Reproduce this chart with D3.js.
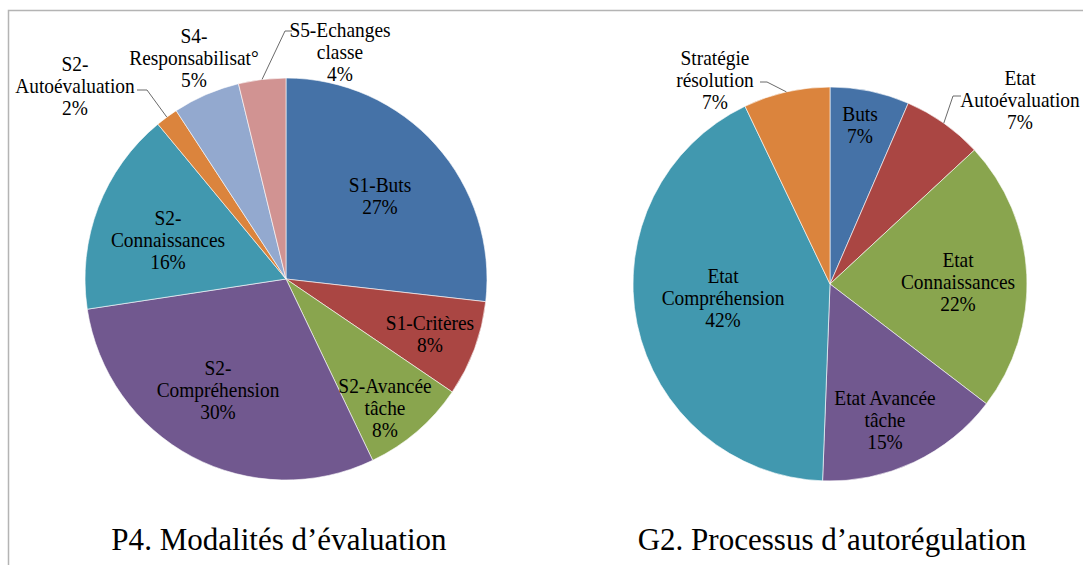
<!DOCTYPE html>
<html>
<head>
<meta charset="utf-8">
<script src="https://cdn.jsdelivr.net/npm/d3@7"></script>
<style>
  body { margin: 0; background: #fff; }
  svg text { font-family: "Liberation Serif", "Times New Roman", Times, serif; fill: #000; }
</style>
</head>
<body>
<svg id="chart" width="1083" height="565"></svg>
<script>
// left pie: P4
const p4Labels = [['S1-Buts'], ['S1-Critères'], ['S2-Avancée', 'tâche'], ['S2-', 'Compréhension'],
  ['S2-', 'Connaissances'], ['S2-', 'Autoévaluation'], ['S4-', 'Responsabilisat°'], ['S5-Echanges', 'classe']];
const p4Values = [26.8, 7.7, 8.4, 29.7, 16.4, 1.8, 5.4, 3.8];
const p4Colors = ['#4572a7', '#aa4643', '#89a54e', '#71588f', '#4198af', '#db843d', '#93a9cf', '#d19392'];

// right pie: G2
const g2Labels = [['Buts'], ['Etat', 'Autoévaluation'], ['Etat', 'Connaissances'], ['Etat Avancée', 'tâche'],
  ['Etat', 'Compréhension'], ['Stratégie', 'résolution']];
const g2Values = [6.5, 6.6, 22.3, 15.2, 42.3, 7.1];
const g2Colors = ['#4572a7', '#aa4643', '#89a54e', '#71588f', '#4198af', '#db843d'];

const svg = d3.select('#chart');

// frame
svg.append('path')
  .attr('d', 'M8.5,565 L8.5,10.5 L1083,10.5')
  .attr('fill', 'none')
  .attr('stroke', '#b4b4b4')
  .attr('stroke-width', 1.5);

// label anchors (relative to pie center), leader elbows for outside labels
const p4Layout = {
  cx: 286, cy: 279, r: 201, title: 'P4. Modalités d’évaluation', tx: 279,
  pos: [[94, -83], [144, 55], [99, 129], [-68, 111], [-118, -39], [-211, -193], [-92, -221], [54, -227]],
  leader: { 5: [[137, 90], [147, 90]], 7: [[292, 31], [285, 31]] }
};
const g2Layout = {
  cx: 830, cy: 284, r: 197, title: 'G2. Processus d’autorégulation', tx: 832,
  pos: [[30, -159], [190, -184], [128, -2], [55, 136], [-107, 14], [-115, -204]],
  leader: { 1: [[961, 96], [953, 96]], 5: [[760, 82], [767, 82]] }
};

// text in the source is slightly narrow
const sx = 0.97;

function drawPie(labels, values, colors, lay) {
  const g = svg.append('g').attr('transform', 'translate(' + lay.cx + ',' + lay.cy + ')');
  const pie = d3.pie().sort(null).value(d => d)(values);
  const arc = d3.arc().innerRadius(0).outerRadius(lay.r);

  g.selectAll('path.slice')
    .data(pie)
    .enter().append('path')
    .attr('class', 'slice')
    .attr('d', arc)
    .attr('fill', (d, i) => colors[i])
    .attr('stroke', '#fff')
    .attr('stroke-width', 0.6);

  // leader lines
  Object.keys(lay.leader).forEach(k => {
    const d = pie[+k];
    const a = (d.startAngle + d.endAngle) / 2;
    const pts = lay.leader[k].map(p => [p[0] - lay.cx, p[1] - lay.cy]);
    pts.push([lay.r * Math.sin(a), -lay.r * Math.cos(a)]);
    g.append('path')
      .attr('d', d3.line()(pts))
      .attr('fill', 'none')
      .attr('stroke', '#595959')
      .attr('stroke-width', 0.9);
  });

  const lh = 22;
  pie.forEach((d, i) => {
    const lines = labels[i].concat([Math.round(values[i]) + '%']);
    const t = g.append('text')
      .attr('text-anchor', 'middle')
      .attr('font-size', 20)
      .attr('transform', 'translate(' + lay.pos[i][0] + ',0) scale(' + sx + ',1)');
    const y0 = lay.pos[i][1] - (lines.length - 1) * lh / 2;
    lines.forEach((s, j) => {
      t.append('tspan')
        .attr('x', 0)
        .attr('y', y0 + j * lh)
        .attr('dy', '0.35em')
        .text(s);
    });
  });

  svg.append('text')
    .attr('transform', 'translate(' + lay.tx + ',550) scale(' + sx + ',1)')
    .attr('text-anchor', 'middle')
    .attr('font-size', 32)
    .text(lay.title);
}

drawPie(p4Labels, p4Values, p4Colors, p4Layout);
drawPie(g2Labels, g2Values, g2Colors, g2Layout);
</script>
</body>
</html>
